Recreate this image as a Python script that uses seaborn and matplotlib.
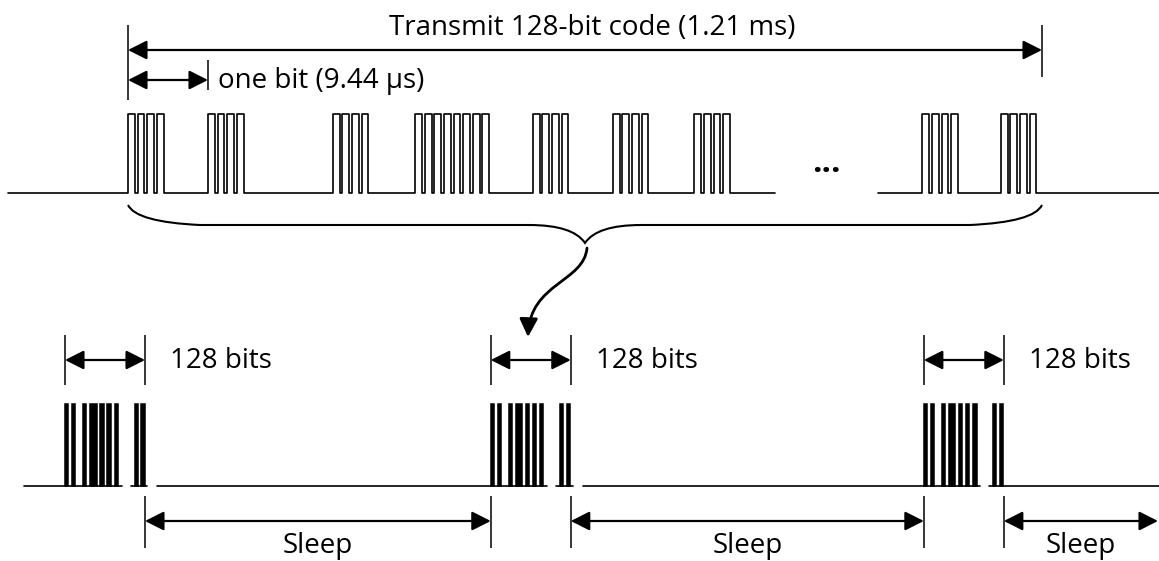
import pandas as pd
import matplotlib
matplotlib.use("Agg")
import matplotlib.pyplot as plt
from matplotlib.path import Path
from matplotlib.patches import PathPatch, FancyArrowPatch
from matplotlib.transforms import blended_transform_factory
import seaborn as sns

# top trace: one 128-bit code, x in bit periods from the start of the code
bit_us = 9.44
code_ms = 1.21
burst_start = [0.0, 1.0, 2.56, 3.59, 5.06, 6.06, 7.08, 9.93, 10.91]
burst_pulses = [4, 4, 4, 8, 4, 4, 4, 4, 4]
pulse_period = 0.12
pulse_high = 0.085
code_len = 11.425          # bits drawn between the two end markers
skip_from, skip_to = 8.09, 9.375   # break in the trace for the "..."
trace_from = -1.5

# bottom trace: repeated transmissions, x in ms
tx_start = [0.0, 6.44, 12.99]
lead_in = -0.62
tx_label = "128 bits"
sleep_label = "Sleep"

# layout (pixels)
W, H = 1159, 561
px_per_bit = 80
code_x0 = 128
top_hi, top_lo = 114, 193
bot_x0 = 65
bot_code_px = 80
bot_hi, bot_lo = 404, 486
FS = 20

sns.set_theme(style="white")
plt.rcParams['font.family'] = ['Open Sans', 'DejaVu Sans']
plt.rcParams['text.color'] = 'black'

fig = plt.figure(figsize=(W / 100, H / 100), dpi=100)
ax = fig.add_axes([0, 0, 1, 1])
ax.set_autoscale_on(False)
ax.set_xlim(0, W)
ax.set_ylim(H, 0)
ax.axis('off')

ax_top = fig.add_axes([0, (H - top_lo) / H, 1, (top_lo - top_hi) / H])
ax_bot = fig.add_axes([0, (H - bot_lo) / H, 1, (bot_lo - bot_hi) / H])
px_per_ms = bot_code_px / code_ms
top_xlim = (-code_x0 / px_per_bit, (W - code_x0) / px_per_bit)
bot_xlim = (-bot_x0 / px_per_ms, (W - bot_x0) / px_per_ms)


def trace(x0, x1, starts, counts, seg):
    xs, ys = [x0], [0]
    for s, n in zip(starts, counts):
        for p in range(n):
            r = s + p * pulse_period
            f = r + pulse_high
            xs += [r, r, f, f]
            ys += [0, 1, 1, 0]
    xs.append(x1)
    ys.append(0)
    return pd.DataFrame({"x": xs, "y": ys, "seg": seg})


first = [(s, n) for s, n in zip(burst_start, burst_pulses) if s < skip_from]
last = [(s, n) for s, n in zip(burst_start, burst_pulses) if s >= skip_from]
df_top = pd.concat([
    trace(trace_from, skip_from, [a for a, b in first], [b for a, b in first], 0),
    trace(skip_to, top_xlim[1], [a for a, b in last], [b for a, b in last], 1),
])
sns.lineplot(data=df_top, x="x", y="y", units="seg", estimator=None, sort=False,
             color="black", linewidth=1.2, ax=ax_top)

# bottom: each transmission is the same code squeezed into code_ms
k = code_ms / code_len
lefts, widths = [], []
for g in tx_start:
    for s, n in zip(burst_start, burst_pulses):
        lefts.append(g + s * k)
        widths.append(((n - 1) * pulse_period + pulse_high) * k)
ax_bot.bar(lefts, 1, width=widths, bottom=0, align="edge", color="black",
           edgecolor="black", linewidth=1.1, clip_on=False)

rows = []
prev_end = None
for i, g in enumerate(tx_start):
    a0 = lead_in if prev_end is None else prev_end + 0.15
    rows += [(a0, 0, 2 * i), (g + skip_from * k, 0, 2 * i)]
    b1 = g + code_ms + 0.03 if i < len(tx_start) - 1 else bot_xlim[1]
    rows += [(g + skip_to * k, 0, 2 * i + 1), (b1, 0, 2 * i + 1)]
    prev_end = b1
df_bot = pd.DataFrame(rows, columns=["x", "y", "seg"])
sns.lineplot(data=df_bot, x="x", y="y", units="seg", estimator=None, sort=False,
             color="black", linewidth=1.2, ax=ax_bot)

for a, lim in ((ax_top, top_xlim), (ax_bot, bot_xlim)):
    a.set_xlim(*lim)
    a.set_ylim(0, 1)
    a.axis('off')
    for ln in a.lines:
        ln.set_clip_on(False)

tr_top = blended_transform_factory(ax_top.transData, ax.transData)
tr_bot = blended_transform_factory(ax_bot.transData, ax.transData)
arrow_style = '<|-|>,head_length=1.15,head_width=0.58'


def vtick(x, y0, y1, tr):
    ax.plot([x, x], [y0, y1], color='black', lw=1.1, transform=tr,
            solid_capstyle='butt')


def span(x0, x1, y, tr):
    ax.annotate('', xy=(x1, y), xytext=(x0, y), xycoords=tr, textcoords=tr,
                arrowprops=dict(arrowstyle=arrow_style, mutation_scale=10,
                                color='black', lw=1.6, shrinkA=0, shrinkB=0))


# top annotations
vtick(0, 25, 100, tr_top)
vtick(code_len, 25, 77, tr_top)
vtick(1.0, 60, 90, tr_top)
span(0, code_len, 50, tr_top)
span(0, 1.0, 80, tr_top)
ax.annotate(f"Transmit 128-bit code ({code_ms} ms)", xy=(code_len / 2, 35),
            xycoords=tr_top, xytext=(5, 0), textcoords='offset points',
            ha='center', va='baseline', fontsize=FS)
ax.annotate(f"one bit ({bit_us} µs)", xy=(1.0, 88), xycoords=tr_top,
            xytext=(7, 0), textcoords='offset points',
            ha='left', va='baseline', fontsize=FS)
ax.text((skip_from + skip_to) / 2, 172, "...", transform=tr_top, ha='center',
        va='baseline', fontsize=24, fontweight='bold')

# brace under the code
mid = code_len / 2
verts = [(0, 205), (0.1, 222), (0.9, 225), (mid - 0.7, 225), (mid - 0.15, 225),
         (mid, 243), (mid + 0.15, 225), (mid + 0.7, 225), (code_len - 0.9, 225),
         (code_len - 0.1, 222), (code_len, 205)]
codes = [Path.MOVETO, Path.CURVE3, Path.CURVE3, Path.LINETO, Path.CURVE3,
         Path.CURVE3, Path.CURVE3, Path.CURVE3, Path.LINETO, Path.CURVE3,
         Path.CURVE3]
ax.add_patch(PathPatch(Path(verts, codes), transform=tr_top, fill=False,
                       lw=1.5, ec='black'))

# curved arrow down to the second transmission
curve = Path([(587, 248), (584, 282), (530, 283), (528, 337)],
             [Path.MOVETO, Path.CURVE4, Path.CURVE4, Path.CURVE4])
ax.add_patch(FancyArrowPatch(path=curve, arrowstyle='-|>,head_length=1.1,head_width=0.55',
                             mutation_scale=10, lw=2.0, color='black'))

# bottom annotations
bot_right = (W - 1 - bot_x0) / px_per_ms
for i, g in enumerate(tx_start):
    end = g + code_ms
    vtick(g, 335, 385, tr_bot)
    vtick(end, 335, 385, tr_bot)
    span(g, end, 360, tr_bot)
    ax.annotate(tx_label, xy=(end, 368), xycoords=tr_bot, xytext=(18, 0),
                textcoords='offset points', ha='left', va='baseline', fontsize=FS)
    nxt = tx_start[i + 1] if i < len(tx_start) - 1 else bot_right
    vtick(end, 496, 548, tr_bot)
    if i < len(tx_start) - 1:
        vtick(nxt, 496, 548, tr_bot)
    span(end, nxt, 521, tr_bot)
    ax.text((end + nxt) / 2, 553, sleep_label, transform=tr_bot, ha='center',
            va='baseline', fontsize=FS)

fig.savefig("out.png", dpi=100, facecolor="white")
